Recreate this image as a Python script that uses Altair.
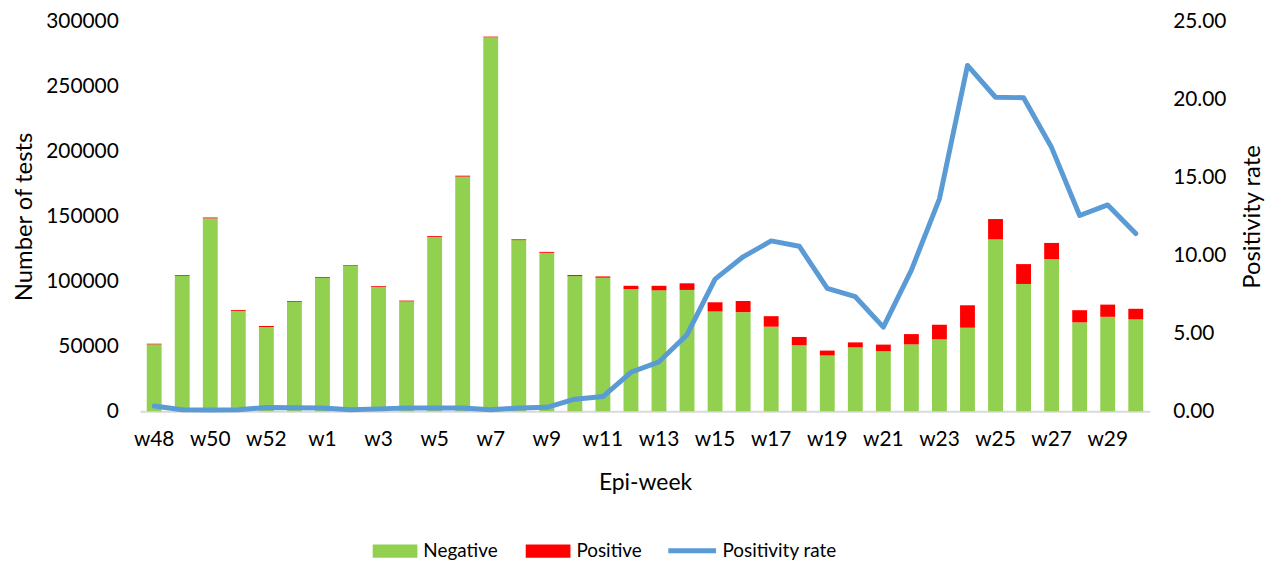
import altair as alt
import pandas as pd

weeks = ["w48", "w49", "w50", "w51", "w52", "w53", "w1", "w2", "w3", "w4", "w5", "w6",
         "w7", "w8", "w9", "w10", "w11", "w12", "w13", "w14", "w15", "w16", "w17", "w18",
         "w19", "w20", "w21", "w22", "w23", "w24", "w25", "w26", "w27", "w28", "w29", "w30"]
negative = [51500, 104300, 148500, 77300, 64900, 84300, 102700, 112000, 95800, 84600, 134300, 180700,
            288000, 131800, 122000, 104100, 102800, 94100, 93100, 93400, 76800, 76300, 65100, 50800,
            42900, 49200, 46200, 51500, 55400, 64300, 132400, 98000, 117100, 68400, 72700, 70700]
positive = [500, 600, 700, 700, 700, 600, 600, 500, 600, 600, 650, 700,
            500, 600, 700, 760, 1000, 2500, 3500, 5100, 7100, 8600, 8100, 6400,
            3800, 3800, 5100, 7900, 11200, 17300, 15600, 15300, 12500, 9400, 9400, 8200]
rate = [0.33, 0.10, 0.08, 0.10, 0.24, 0.22, 0.20, 0.10, 0.15, 0.20, 0.20, 0.20,
        0.10, 0.20, 0.25, 0.77, 0.94, 2.50, 3.17, 4.91, 8.48, 9.91, 10.93, 10.59,
        7.89, 7.35, 5.40, 9.06, 13.63, 22.19, 20.15, 20.12, 16.92, 12.56, 13.24, 11.40]
x_labels = weeks[::2]
left_ticks = [0, 50000, 100000, 150000, 200000, 250000, 300000]
right_ticks = [0, 5, 10, 15, 20, 25]

n = len(weeks)
bars_df = pd.DataFrame({
    "week": weeks * 2,
    "status": ["Negative"] * n + ["Positive"] * n,
    "count": negative + positive,
    "ord": [0] * n + [1] * n,
})
line_df = pd.DataFrame({"week": weeks, "rate": rate, "series": ["Positivity rate"] * n})

FONT = "Lato"

x_enc = alt.X(
    "week:N", sort=weeks,
    scale=alt.Scale(paddingInner=0.47, paddingOuter=0.235),
    axis=alt.Axis(values=x_labels, labelAngle=0, ticks=False, grid=False,
                  domainColor="#d9d9d9", domainWidth=2, labelPadding=18,
                  labelFontSize=21, title="Epi-week", titleFontSize=23,
                  titleFontWeight="normal", titleY=72, titleBaseline="middle"),
)

bars = alt.Chart(bars_df).mark_bar().encode(
    x=x_enc,
    y=alt.Y("count:Q", stack="zero",
            scale=alt.Scale(domain=[0, 300000], nice=False),
            axis=alt.Axis(values=left_ticks, format="d", ticks=False, domain=False, grid=False,
                          labelPadding=22, labelFontSize=21,
                          title="Number of tests", titleFontSize=24, titleFontWeight="normal",
                          titleAngle=-90, titleX=-116, titleY=196,
                          titleAlign="center", titleBaseline="middle")),
    color=alt.Color("status:N",
                    scale=alt.Scale(domain=["Negative", "Positive"], range=["#92d050", "#ff0000"]),
                    legend=alt.Legend(title=None, orient="none", direction="horizontal",
                                      legendX=234, legendY=510, padding=0,
                                      symbolType="M-1,-0.3L1,-0.3L1,0.3L-1,0.3Z",
                                      symbolSize=2025, symbolStrokeWidth=0,
                                      labelOffset=6, columnPadding=28,
                                      labelFontSize=19)),
    order=alt.Order("ord:Q"),
)

line = alt.Chart(line_df).mark_line(strokeWidth=5, strokeCap="round", strokeJoin="round").encode(
    x=alt.X("week:N", sort=weeks),
    y=alt.Y("rate:Q", scale=alt.Scale(domain=[0, 25], nice=False),
            axis=alt.Axis(orient="right", values=right_ticks, format=".2f", ticks=False,
                          domain=False, grid=False, labelPadding=23, labelFontSize=21,
                          title="Positivity rate", titleFontSize=24, titleFontWeight="normal",
                          titleAngle=-90, titleX=103, titleY=196,
                          titleAlign="center", titleBaseline="middle")),
    stroke=alt.Stroke("series:N", scale=alt.Scale(range=["#5b9bd5"]),
                      legend=alt.Legend(title=None, orient="none", direction="horizontal",
                                        legendX=529, legendY=506, padding=0,
                                        symbolType="stroke", symbolSize=2304,
                                        symbolStrokeWidth=5, labelOffset=4,
                                        labelFontSize=19)),
)

chart = alt.layer(bars, line).resolve_scale(y="independent").properties(
    width=1016, height=392,
    padding={"left": 133, "top": 12, "right": 124, "bottom": 156},
    autosize=alt.AutoSizeParams(type="none"),
).configure_view(stroke=None).configure_axis(
    labelFont=FONT, titleFont=FONT, labelColor="#000000", titleColor="#000000"
).configure_legend(labelFont=FONT, labelColor="#000000")

chart.save("out.html", embed_options={"renderer": "svg", "actions": False})
